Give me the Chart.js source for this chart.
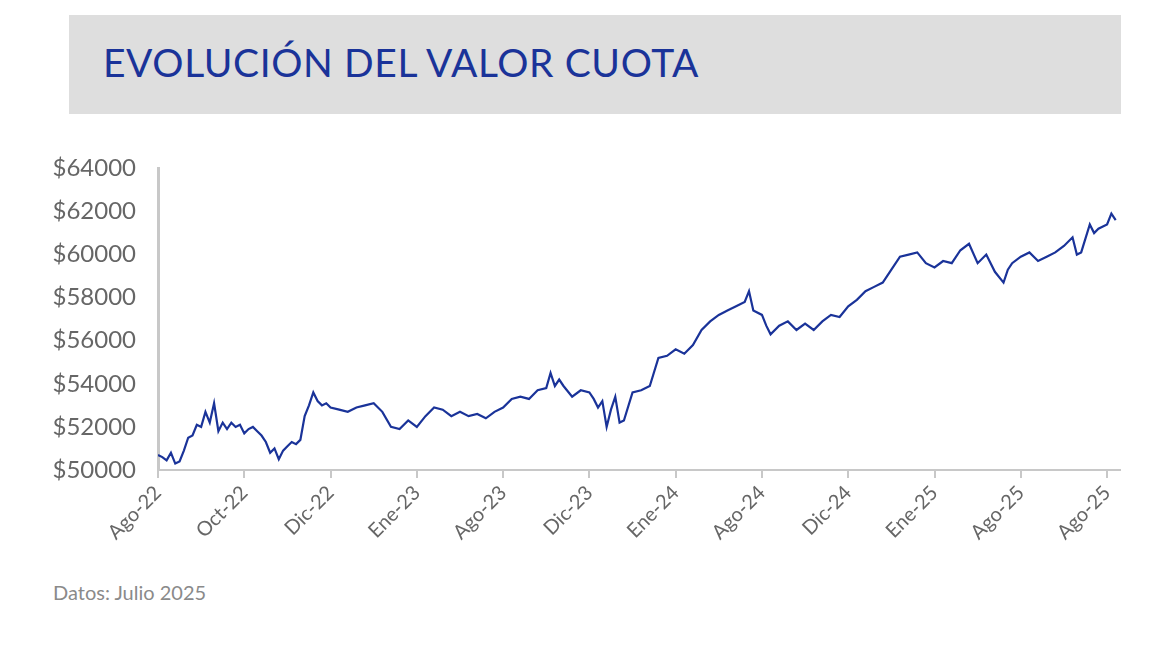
<!DOCTYPE html>
<html>
<head>
<meta charset="utf-8">
<script src="https://cdn.jsdelivr.net/npm/chart.js@4"></script>
<style>
  body { margin:0; width:1158px; height:672px; background:#fff; font-family:Lato, sans-serif; position:relative; overflow:hidden; }
  .title { position:absolute; left:69px; top:15px; width:1052px; height:99px; background:#dedede; }
  .title span { position:absolute; left:34px; top:24px; font-size:39px; color:#1a3399; letter-spacing:0.6px; }
  .chart-box { position:absolute; left:30px; top:140px; width:1110px; height:440px; }
  .note { position:absolute; left:53px; top:580px; font-size:20px; color:#8a8a8a; }
</style>
</head>
<body>
<div class="title"><span>EVOLUCIÓN DEL VALOR CUOTA</span></div>
<div class="chart-box"><canvas id="chart"></canvas></div>
<div class="note">Datos: Julio 2025</div>
<script>
const tickLabels = ['Ago-22', 'Oct-22', 'Dic-22', 'Ene-23', 'Ago-23', 'Dic-23', 'Ene-24', 'Ago-24', 'Dic-24', 'Ene-25', 'Ago-25', 'Ago-25'];

const positions = [0, 0.05, 0.1, 0.15, 0.2, 0.25, 0.3, 0.35, 0.4, 0.45, 0.5, 0.55, 0.6, 0.65, 0.7, 0.75, 0.8, 0.85, 0.9, 0.95,
  1.0, 1.05, 1.1, 1.15, 1.2, 1.25, 1.3, 1.35, 1.4, 1.45, 1.5, 1.55, 1.6, 1.65, 1.7, 1.75, 1.8, 1.85, 1.9, 1.95,
  2.0, 2.1, 2.2, 2.3, 2.4, 2.5, 2.6, 2.7, 2.8, 2.9, 3.0, 3.1, 3.2, 3.3, 3.4, 3.5, 3.6, 3.7, 3.8, 3.9,
  4.0, 4.1, 4.2, 4.3, 4.4, 4.5, 4.55, 4.6, 4.65, 4.7, 4.8, 4.9, 5.0, 5.05, 5.1, 5.15, 5.2, 5.25, 5.3, 5.35, 5.4, 5.5, 5.6, 5.7, 5.8, 5.9,
  6.0, 6.1, 6.2, 6.3, 6.4, 6.5, 6.6, 6.7, 6.8, 6.85, 6.9, 7.0, 7.05, 7.1, 7.2, 7.3, 7.4, 7.5, 7.6, 7.7, 7.8, 7.9,
  8.0, 8.1, 8.2, 8.3, 8.4, 8.5, 8.6, 8.7, 8.8, 8.9, 9.0, 9.1, 9.2, 9.3, 9.4, 9.5, 9.6, 9.7, 9.8, 9.85, 9.9,
  10.0, 10.1, 10.2, 10.3, 10.4, 10.5, 10.6, 10.65, 10.7, 10.8, 10.85, 10.9, 11.0, 11.05, 11.1];

const values = [50700, 50600, 50450, 50800, 50300, 50400, 50900, 51500, 51600, 52100, 52000, 52700, 52200, 53100, 51800, 52200, 51900, 52200, 52000, 52100,
  51700, 51900, 52000, 51800, 51600, 51300, 50800, 51000, 50500, 50900, 51100, 51300, 51200, 51400, 52500, 53000, 53600, 53200, 53000, 53100,
  52900, 52800, 52700, 52900, 53000, 53100, 52700, 52000, 51900, 52300, 52000, 52500, 52900, 52800, 52500, 52700, 52500, 52600, 52400, 52700,
  52900, 53300, 53400, 53300, 53700, 53800, 54500, 53900, 54200, 53900, 53400, 53700, 53600, 53300, 52900, 53200, 52000, 52800, 53400, 52200, 52300, 53600, 53700, 53900, 55200, 55300,
  55600, 55400, 55800, 56500, 56900, 57200, 57400, 57600, 57800, 58300, 57400, 57200, 56700, 56300, 56700, 56900, 56500, 56800, 56500, 56900, 57200, 57100,
  57600, 57900, 58300, 58500, 58700, 59300, 59900, 60000, 60100, 59600, 59400, 59700, 59600, 60200, 60500, 59600, 60000, 59200, 58700, 59300, 59600,
  59900, 60100, 59700, 59900, 60100, 60400, 60800, 60000, 60100, 61400, 61000, 61200, 61400, 61900, 61600];

const series = positions.map((x, i) => ({ x, y: values[i] }));

new Chart(document.getElementById('chart'), {
  type: 'line',
  data: {
    datasets: [{
      data: series,
      borderColor: '#1a3399',
      borderWidth: 2.2,
      pointRadius: 0,
      tension: 0
    }]
  },
  options: {
    responsive: true,
    maintainAspectRatio: false,
    animation: false,
    layout: { padding: { top: 13, right: 20 } },
    plugins: { legend: { display: false }, tooltip: { enabled: false } },
    scales: {
      x: {
        type: 'linear',
        min: 0,
        max: 11.15,
        afterBuildTicks: axis => { axis.ticks = tickLabels.map((_, i) => ({ value: i })); },
        afterFit: axis => { axis.height = 110; },
        grid: { drawOnChartArea: false, color: '#c8c8c8', lineWidth: 2, tickLength: 8 },
        border: { color: '#c8c8c8', width: 2 },
        ticks: {
          color: '#666',
          font: { family: 'Lato', size: 20 },
          maxRotation: 45,
          minRotation: 45,
          autoSkip: false,
          callback: (v) => tickLabels[v]
        }
      },
      y: {
        min: 50000,
        max: 64000,
        afterFit: axis => { axis.width = 128; },
        afterBuildTicks: axis => { axis.ticks = [50000, 52000, 54000, 56000, 58000, 60000, 62000, 64000].map(v => ({ value: v })); },
        grid: { display: false },
        border: { color: '#c8c8c8', width: 3 },
        ticks: {
          color: '#666',
          padding: 14,
          font: { family: 'Lato', size: 24 },
          callback: v => '$' + v
        }
      }
    }
  }
});
</script>
</body>
</html>
